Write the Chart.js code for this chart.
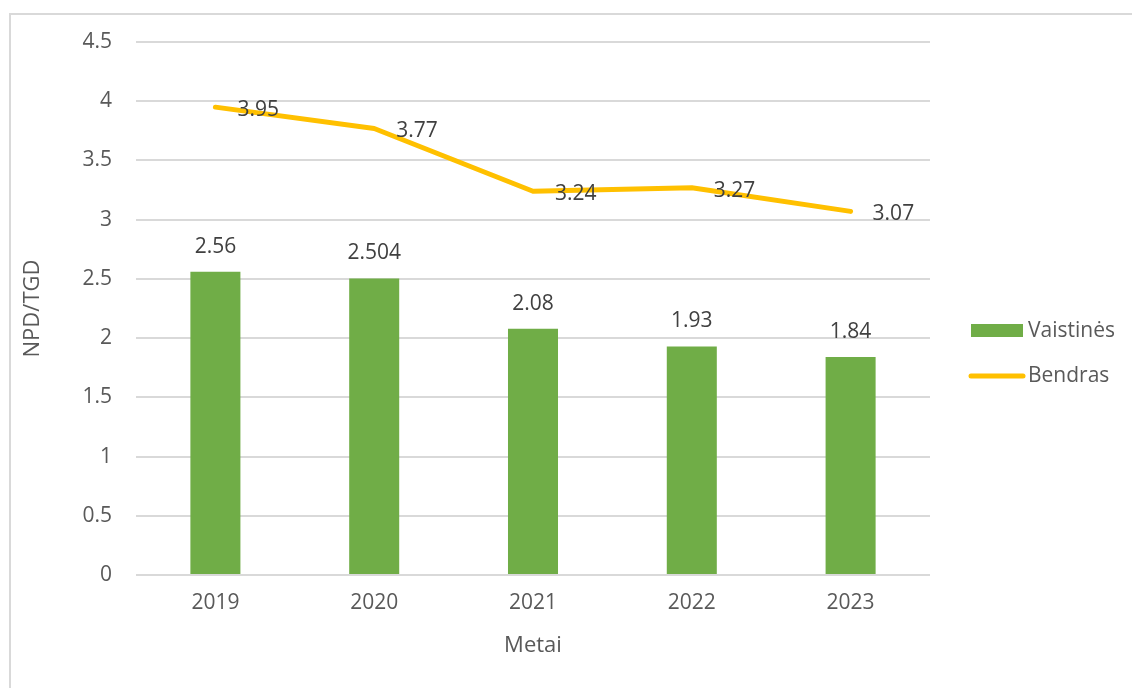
<!DOCTYPE html>
<html>
<head>
<meta charset="utf-8">
<script src="https://cdn.jsdelivr.net/npm/chart.js@4/dist/chart.umd.min.js"></script>
<style>
  html, body { margin: 0; padding: 0; background: #fff; }
  #wrap { position: relative; width: 1132px; height: 688px; }
</style>
</head>
<body>
<div id="wrap"><canvas id="myChart" width="1132" height="688"></canvas></div>
<script>
const years = ["2019", "2020", "2021", "2022", "2023"];
const vaistines = [2.56, 2.504, 2.08, 1.93, 1.84];
const bendras = [3.95, 3.77, 3.24, 3.27, 3.07];
const yTicks = [0, 0.5, 1, 1.5, 2, 2.5, 3, 3.5, 4, 4.5];

const FONT = "'Open Sans', sans-serif";
const textColor = "#595959";
const labelColor = "#404040";

// frame around the whole chart
const framePlugin = {
  id: "frame",
  beforeDraw(chart) {
    const ctx = chart.ctx;
    ctx.save();
    ctx.strokeStyle = "#d9d9d9";
    ctx.lineWidth = 2;
    ctx.strokeRect(10, 14, 1130, 680);
    ctx.restore();
  },
};

// value labels: above the bars, to the right of the line points
const valueLabels = {
  id: "valueLabels",
  afterDatasetsDraw(chart) {
    const ctx = chart.ctx;
    ctx.save();
    ctx.font = "21px " + FONT;
    ctx.fillStyle = labelColor;
    chart.data.datasets.forEach((ds, i) => {
      const meta = chart.getDatasetMeta(i);
      meta.data.forEach((el, j) => {
        const v = ds.data[j];
        ctx.textBaseline = "middle";
        if (ds.type === "line") {
          ctx.textAlign = "left";
          ctx.fillText(String(v), el.x + 22, el.y + 3);
        } else {
          ctx.textAlign = "center";
          ctx.fillText(String(v), el.x, el.y - 25);
        }
      });
    });
    ctx.restore();
  },
};

// legend on the right side
const sideLegend = {
  id: "sideLegend",
  afterDraw(chart) {
    const ctx = chart.ctx;
    const ds = chart.data.datasets;
    ctx.save();
    ctx.font = "21px " + FONT;
    ctx.textBaseline = "middle";
    ctx.textAlign = "left";
    // bar entry
    ctx.fillStyle = ds[0].backgroundColor;
    ctx.fillRect(971, 324, 52, 13);
    ctx.fillStyle = textColor;
    ctx.fillText(ds[0].label, 1028, 331);
    // line entry
    ctx.strokeStyle = ds[1].borderColor;
    ctx.lineWidth = 5;
    ctx.lineCap = "round";
    ctx.beginPath();
    ctx.moveTo(971, 376);
    ctx.lineTo(1023, 376);
    ctx.stroke();
    ctx.fillText(ds[1].label, 1028, 376);
    ctx.restore();
  },
};

const data = {
  labels: years,
  datasets: [
    {
      type: "bar",
      label: "Vaistinės",
      data: vaistines,
      backgroundColor: "#70AD47",
      categoryPercentage: 1,
      barPercentage: 0.315,
      order: 1,
    },
    {
      type: "line",
      label: "Bendras",
      data: bendras,
      borderColor: "#FFC000",
      backgroundColor: "#FFC000",
      borderWidth: 5,
      borderCapStyle: "round",
      borderJoinStyle: "round",
      pointRadius: 0,
      tension: 0,
      order: 0,
    },
  ],
};

const config = {
  type: "bar",
  data: data,
  plugins: [framePlugin, valueLabels, sideLegend],
  options: {
    responsive: false,
    animation: false,
    layout: {
      padding: { left: 0, right: 202, top: 42, bottom: 0 },
    },
    plugins: {
      legend: { display: false },
      tooltip: { enabled: false },
    },
    scales: {
      x: {
        grid: { display: false, drawTicks: false },
        border: { display: false },
        ticks: {
          color: textColor,
          font: { family: FONT, size: 21 },
          padding: 15,
        },
        title: {
          display: true,
          text: "Metai",
          color: textColor,
          font: { family: FONT, size: 22 },
          padding: { top: 0, bottom: 29 },
        },
        afterFit(scale) {
          scale.height = 113;
        },
      },
      y: {
        min: 0,
        max: 4.5,
        afterBuildTicks(scale) {
          scale.ticks = yTicks.map((v) => ({ value: v }));
        },
        grid: { color: "#d9d9d9", lineWidth: 2, drawTicks: false },
        border: { display: false },
        ticks: {
          color: textColor,
          font: { family: FONT, size: 21 },
          padding: 24,
          callback: (v) => String(v),
        },
        title: {
          display: true,
          text: "NPD/TGD",
          color: textColor,
          font: { family: FONT, size: 22 },
          padding: { top: 20, bottom: 0 },
        },
        afterFit(scale) {
          scale.width = 136;
        },
      },
    },
  },
};
const myChart = new Chart(document.getElementById("myChart"), config);
</script>
</body>
</html>
